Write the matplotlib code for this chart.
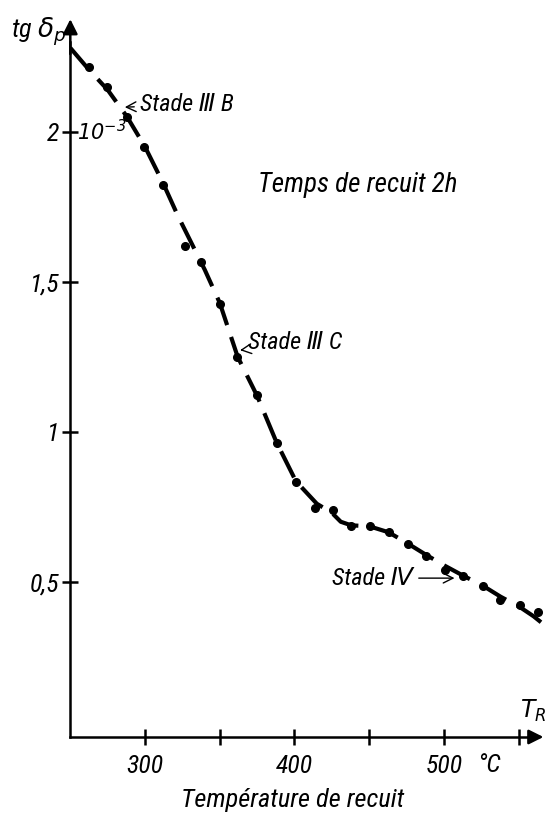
import numpy as np
import matplotlib.pyplot as plt

# measured loss tangent after 2h anneal
temp_pts = [262.5, 274.6, 288, 299.3, 312, 326.8, 337.5, 350.2, 361.6, 375, 388.3,
            400.9, 413.6, 425.7, 437.8, 450.5, 463.2, 475.9, 488, 500.7, 512.8,
            526.2, 537.6, 551, 563]
tg_pts = [2.217, 2.15, 2.05, 1.95, 1.823, 1.62, 1.567, 1.427, 1.25, 1.123, 0.963,
          0.833, 0.747, 0.74, 0.687, 0.687, 0.667, 0.627, 0.587, 0.54, 0.52,
          0.487, 0.44, 0.423, 0.40]

# hand-drawn trend curve
temp_curve = [250, 262, 275, 288, 300, 312, 322, 332, 340, 350, 362, 375, 388, 401,
              415, 425, 431, 438, 450, 463, 476, 488, 500, 513, 526, 538, 551, 560, 570]
tg_curve = [2.28, 2.21, 2.14, 2.05, 1.95, 1.83, 1.72, 1.62, 1.54, 1.43, 1.25, 1.12,
            0.965, 0.835, 0.76, 0.73, 0.70, 0.688, 0.685, 0.665, 0.627, 0.59, 0.555,
            0.52, 0.487, 0.45, 0.415, 0.385, 0.345]

xticks_major = [300, 400, 500]
xticks_minor = [350, 450, 550]
yticks = [0.5, 1, 1.5, 2]
ytick_labels = ['0,5', '1', '1,5', '2']

plt.rcParams['font.family'] = ['Roboto Condensed', 'Roboto', 'DejaVu Sans']
plt.rcParams['font.style'] = 'italic'

fig = plt.figure(figsize=(5.48, 8.14), dpi=100)
ax = fig.add_axes([0.1283, 0.0946, 1 - 0.1283, 0.893])
ax.set_xlim(250, 569.7)
ax.set_ylim(-0.0177, 2.406)

for s in ['top', 'right']:
    ax.spines[s].set_visible(False)
for s in ['left', 'bottom']:
    ax.spines[s].set_linewidth(1.8)
ax.spines['left'].set_bounds(-0.0177, 2.3)
ax.spines['bottom'].set_bounds(250, 560)

# arrow heads on the axes
ax.annotate('', xy=(250, 2.385), xytext=(250, 2.25),
            arrowprops=dict(arrowstyle='-|>', color='k', lw=1.8, mutation_scale=22),
            annotation_clip=False)
ax.annotate('', xy=(568.5, -0.0177), xytext=(555, -0.0177),
            arrowprops=dict(arrowstyle='-|>', color='k', lw=1.8, mutation_scale=22),
            annotation_clip=False)

ax.set_xticks(xticks_major + xticks_minor)
ax.set_xticklabels(['300', '400', '500', '', '', ''])
ax.set_yticks(yticks)
ax.set_yticklabels(ytick_labels)
ax.tick_params(axis='both', direction='inout', length=12, width=1.8, labelsize=18.5, pad=2)
ax.tick_params(axis='x', pad=6)

ax.plot(temp_curve, tg_curve, color='k', lw=3, linestyle=(0, (7, 3)),
        solid_capstyle='butt')
ax.plot(temp_pts, tg_pts, 'o', color='k', ms=5.5)

# labels
ax.text(-0.125, 2.335, r'tg $\delta_p$', transform=ax.get_yaxis_transform(),
        fontsize=19, va='center', ha='left')
ax.text(254.5, 2.0, r'$\mathit{10^{-3}}$', fontsize=15, va='center', ha='left',
        math_fontfamily='dejavusans')
ax.text(375.5, 1.823, 'Temps de recuit 2h', fontsize=19.5, va='center', ha='left')
ax.text(530, -0.11, '°C', fontsize=18.5, va='center', ha='center')
ax.text(551, 0.07, r'$T_R$', fontsize=17, va='center', ha='left',
        math_fontfamily='dejavusans')
ax.text(399, -0.228, 'Température de recuit', fontsize=19, va='center', ha='center')

arrow = dict(arrowstyle='->', color='k', lw=1.0)
ax.annotate('Stade Ⅲ B', xy=(284.6, 2.082), xytext=(296.5, 2.09), fontsize=17.5,
            va='center', ha='left', arrowprops=arrow)
ax.annotate('Stade Ⅲ C', xy=(363.6, 1.272), xytext=(368.8, 1.296), fontsize=17.5,
            va='center', ha='left', arrowprops=arrow)
ax.annotate('Stade Ⅳ', xy=(509, 0.512), xytext=(479.5, 0.512), fontsize=17.5,
            va='center', ha='right', arrowprops=arrow)

fig.savefig('out.png', dpi=100)
